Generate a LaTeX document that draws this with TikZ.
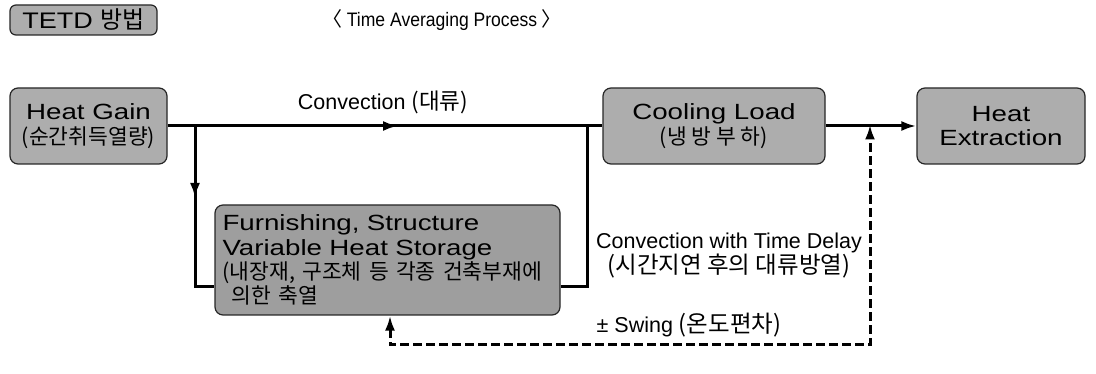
\documentclass[tikz,border=0pt]{standalone}
\usepackage{fontspec}
\setmainfont{Liberation Sans}
\newfontfamily\kr{Noto Sans CJK KR}
\newfontfamily\wide[FakeStretch=1.26]{Liberation Sans}
\newfontfamily\tetdfont[FakeStretch=1.2]{Liberation Sans}
\newfontfamily\titlefont[FakeStretch=0.9]{Liberation Sans}
\usetikzlibrary{arrows.meta,decorations.markings}

\begin{document}
\begin{tikzpicture}[x=1pt,y=-1pt,
  box/.style={draw=black!85, line width=1.2pt, rounded corners=8pt, fill=black!32,
    inner sep=0pt, align=center, font=\wide\fontsize{22}{24.5}\selectfont},
  flow/.style={line width=3pt},
  tip/.style={-{Latex[length=15pt,width=10pt]}},
  dashflow/.style={line width=3pt, dash pattern=on 9pt off 4pt},
  midtip/.style={postaction={decorate}, decoration={markings,
    mark=at position #1 with {\arrow{Latex[length=15pt,width=10pt]}}}},
  lbl/.style={font=\fontsize{21.5}{23}\selectfont, align=center}
]
\useasboundingbox (0,0) rectangle (1096,374);

% title block
\node[box, rounded corners=6pt, minimum width=147pt, minimum height=30pt,
  font=\tetdfont\fontsize{22.5}{24}\selectfont] (tetd) at (83.5,20)
  {TETD {\kr\fontsize{24}{24}\selectfont 방법}};
\node[font=\titlefont\fontsize{19.5}{22}\selectfont] (title) at (442,20)
  {{\kr\fontsize{20}{22}\selectfont 〈} Time Averaging Process {\kr\fontsize{20}{22}\selectfont 〉}};

% process boxes
\node[box, minimum width=157pt, minimum height=76pt] (gain) at (88.5,126)
  {Heat Gain\\{\kr\fontsize{21.5}{24.5}\selectfont (순간취득열량)}};
\node[box, minimum width=222pt, minimum height=76pt] (cool) at (714,126)
  {Cooling Load\\{\kr\fontsize{21.5}{24.5}\selectfont (냉 방 부 하)}};
\node[box, minimum width=168pt, minimum height=76pt] (extr) at (1001,126)
  {Heat\\Extraction};
\node[box, minimum width=345pt, minimum height=110pt, align=left, text width=330pt,
  fill=black!38] (store) at (387.5,260)
  {Furnishing, Structure\\Variable Heat Storage\\
   {\kr\fontsize{21.5}{24}\selectfont (내장재, 구조체 등 각종 건축부재에\\\hspace*{9pt}의한 축열}};

% junction points
\coordinate (jl) at (195,126);
\coordinate (kl) at (195,287);
\coordinate (jr) at (587,126);
\coordinate (kr) at (587,287);
\coordinate (js) at (870,126);
\coordinate (ds) at (870,345);
\coordinate (dl) at (390,345);

% connectors
\draw[flow, midtip=0.53] (gain.east) -- (cool.west);
\draw[flow, midtip=72pt] (jl) -- (kl) -- (kl -| store.west);
\draw[flow] (kr -| store.east) -- (kr) -- (jr);
\draw[flow, tip] (cool.east) -- (extr.west);
\draw[dashflow, {Latex[length=15pt,width=10pt]}-{Latex[length=15pt,width=10pt]}]
  (dl |- store.south) -- (dl) -- (ds) -- ([yshift=1.5pt]js);

% labels
\node[lbl] (lconv) at (383,102) {Convection {\kr\fontsize{22.5}{23}\selectfont (대류)}};
\node[lbl] (ldelay) at (729,256) {Convection with Time Delay\\
  {\kr\fontsize{23.5}{23}\selectfont (시간지연 후의 대류방열)}};
\node[lbl] (lswing) at (689,325) {± Swing {\kr\fontsize{23.5}{23}\selectfont (온도편차)}};
\end{tikzpicture}
\end{document}
